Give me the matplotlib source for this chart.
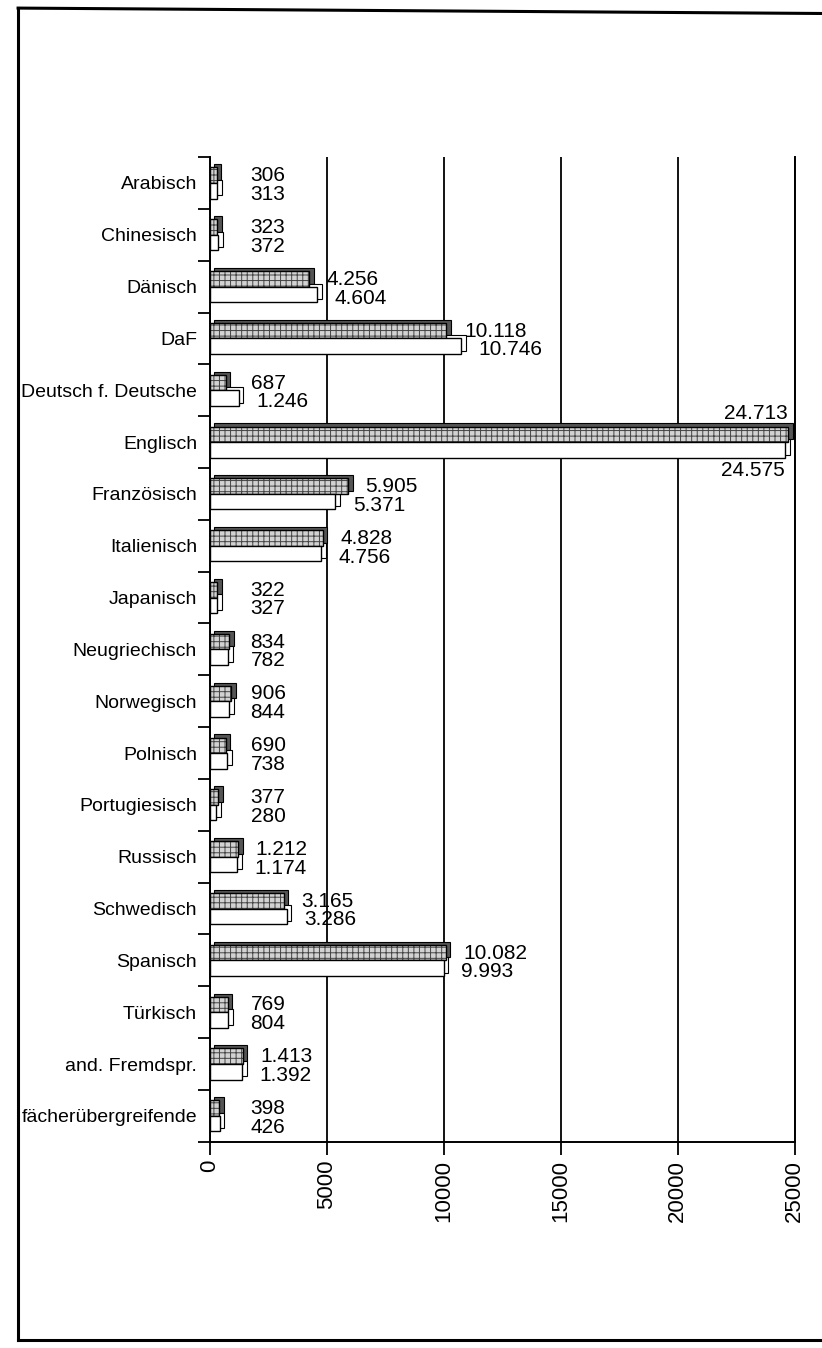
import numpy as np
import matplotlib.pyplot as plt
from matplotlib.lines import Line2D

plt.rcParams['font.family'] = ['Liberation Sans', 'DejaVu Sans']
plt.rcParams['hatch.linewidth'] = 0.7

sprachen = ['Arabisch', 'Chinesisch', 'Dänisch', 'DaF', 'Deutsch f. Deutsche',
            'Englisch', 'Französisch', 'Italienisch', 'Japanisch', 'Neugriechisch',
            'Norwegisch', 'Polnisch', 'Portugiesisch', 'Russisch', 'Schwedisch',
            'Spanisch', 'Türkisch', 'and. Fremdspr.', 'fächerübergreifende']
werte_a = [306, 323, 4256, 10118, 687, 24713, 5905, 4828, 322, 834,
           906, 690, 377, 1212, 3165, 10082, 769, 1413, 398]
werte_b = [313, 372, 4604, 10746, 1246, 24575, 5371, 4756, 327, 782,
           844, 738, 280, 1174, 3286, 9993, 804, 1392, 426]
label_a = ['306', '323', '4.256', '10.118', '687', '24.713', '5.905', '4.828', '322', '834',
           '906', '690', '377', '1.212', '3.165', '10.082', '769', '1.413', '398']
label_b = ['313', '372', '4.604', '10.746', '1.246', '24.575', '5.371', '4.756', '327', '782',
           '844', '738', '280', '1.174', '3.286', '9.993', '804', '1.392', '426']

fig = plt.figure(figsize=(8.22, 13.48), dpi=100)
ax = fig.add_axes([0.255, 0.153, 0.712, 0.7305])

y = np.arange(len(sprachen))
h = 0.3
ya = y - 0.15
yb = y + 0.15
depth = 200  # 3D-Tiefe

# 3D-Rückseite
ax.barh(ya - 0.06, werte_a, left=depth, height=h, color='#555555',
        edgecolor='black', linewidth=0.8, zorder=2)
ax.barh(yb - 0.06, werte_b, left=depth, height=h, color='white',
        edgecolor='black', linewidth=0.8, zorder=2)
# Vorderseite, gerastert
ax.barh(ya, werte_a, height=h, color='#d2d2d2', hatch='+++',
        edgecolor='#444444', linewidth=0, zorder=3)
ax.barh(ya, werte_a, height=h, fill=False, edgecolor='black', linewidth=1, zorder=3)
ax.barh(yb, werte_b, height=h, color='white',
        edgecolor='black', linewidth=1, zorder=4)

for i in range(len(sprachen)):
    if werte_a[i] > 20000:
        ax.text(werte_a[i], i - 0.36, label_a[i], ha='right', va='bottom', fontsize=15)
        ax.text(werte_b[i], i + 0.36, label_b[i], ha='right', va='top', fontsize=15)
    else:
        ax.text(max(werte_a[i], 1000) + 750, i - 0.14, label_a[i], ha='left', va='center', fontsize=15)
        ax.text(max(werte_b[i], 1000) + 750, i + 0.22, label_b[i], ha='left', va='center', fontsize=15)

ax.set_xlim(0, 25000)
ax.set_ylim(len(sprachen) - 0.5, -0.5)
ax.set_xticks([0, 5000, 10000, 15000, 20000, 25000])
ax.set_xticklabels(['0', '5000', '10000', '15000', '20000', '25000'], rotation=90, fontsize=16)
ax.set_yticks(y)
ax.set_yticklabels(sprachen, fontsize=14)
ax.set_yticks(np.arange(len(sprachen) + 1) - 0.5, minor=True)
ax.tick_params(axis='y', which='major', length=0, pad=9)
ax.tick_params(axis='y', which='minor', length=9, width=1.3, direction='out')
ax.tick_params(axis='x', length=9, width=1.3, direction='out', pad=4)
ax.grid(axis='x', color='black', linewidth=1.3, zorder=1)
ax.set_axisbelow(True)
ax.spines['top'].set_visible(False)
for s in ['left', 'bottom', 'right']:
    ax.spines[s].set_linewidth(1.4)

# Rahmen der Vorlage
fig.add_artist(Line2D([0.022, 0.022], [0.006, 0.994], transform=fig.transFigure, color='black', linewidth=2.2))
fig.add_artist(Line2D([0.022, 1.0], [0.994, 0.990], transform=fig.transFigure, color='black', linewidth=2.2))
fig.add_artist(Line2D([0.022, 1.0], [0.006, 0.006], transform=fig.transFigure, color='black', linewidth=2.2))

fig.savefig('out.png', dpi=100)
